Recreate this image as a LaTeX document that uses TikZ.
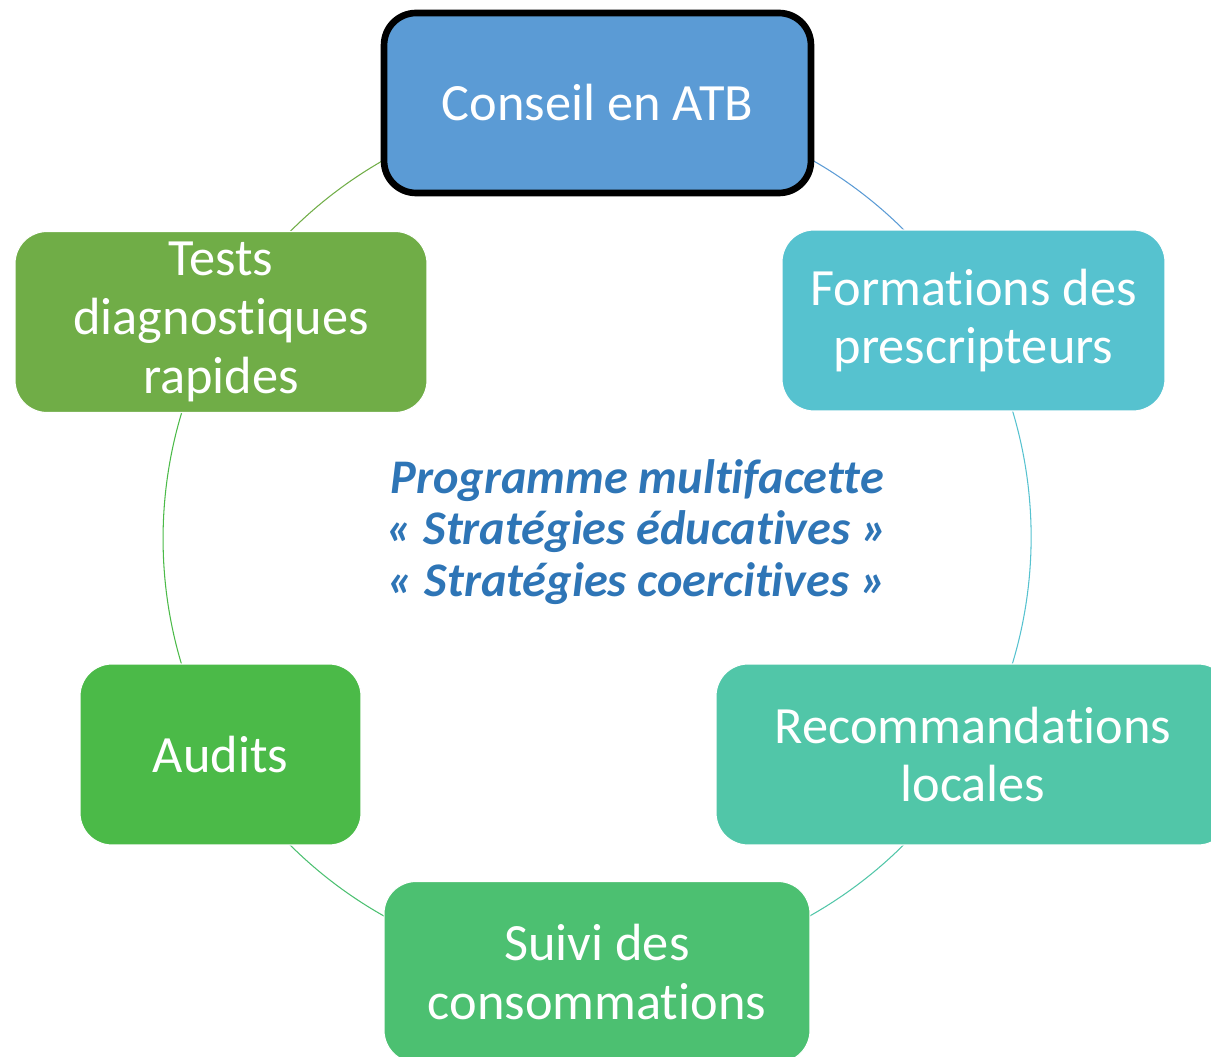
\documentclass[tikz,border=0pt]{standalone}
\usepackage{fontspec}
\setmainfont{Carlito}[Ligatures={NoCommon}]
\usetikzlibrary{backgrounds}
\definecolor{atbBlue}{HTML}{5B9BD5}
\definecolor{formTeal}{HTML}{56C2CF}
\definecolor{recoTeal}{HTML}{51C6A8}
\definecolor{suiviGreen}{HTML}{4CC071}
\definecolor{auditGreen}{HTML}{4BBA48}
\definecolor{testGreen}{HTML}{70AD47}
\definecolor{progBlue}{HTML}{2E75B6}

\begin{document}
\begin{tikzpicture}[x=0.02cm,y=-0.02cm,box/.style n args={3}{fill=#1,draw=white,line width=0.6pt,minimum width=#2,minimum height=#3,rounded corners=0.64cm,rectangle,text=white,align=center,inner sep=0pt,font=\fontsize{29.8}{33.5}\selectfont},ring/.style={line width=0.6pt}]
\useasboundingbox (0,0) rectangle (1211,1057);
\clip (0,0) rectangle (1211,1057);
\node[box={atbBlue}{8.54cm}{3.6cm},draw=black,line width=3.8pt] (conseil) at (597.5,103) {Conseil en ATB};
\node[box={formTeal}{7.66cm}{3.62cm}] (formations) at (973.5,320.5) {Formations des\\prescripteurs};
\node[box={recoTeal}{10.28cm}{3.62cm}] (recos) at (973,754.5) {Recommandations\\locales};
\node[box={suiviGreen}{8.52cm}{3.62cm}] (suivi) at (597,972) {Suivi des\\consommations};
\node[box={auditGreen}{5.62cm}{3.62cm}] (audits) at (220.5,754.5) {Audits};
\node[box={testGreen}{8.24cm}{3.62cm}] (tests) at (221,322) {Tests\\diagnostiques\\rapides};
\node[text=progBlue,align=center,font=\bfseries\itshape\fontsize{27.5}{29.5}\selectfont] (programme) at (637,532)
   {Programme multifacette\\«~Stratégies éducatives~»\\«~Stratégies coercitives~»};
\begin{scope}[on background layer]
\foreach \src/\dst/\col in %
{conseil/formations/atbBlue,formations/recos/formTeal,recos/suivi/recoTeal,suivi/audits/suiviGreen,audits/tests/auditGreen,tests/conseil/testGreen} {
   \draw[ring,\col] (\src.center) to[bend left=30,looseness=0.912] (\dst.center);
}
\end{scope}
\end{tikzpicture}
\end{document}
